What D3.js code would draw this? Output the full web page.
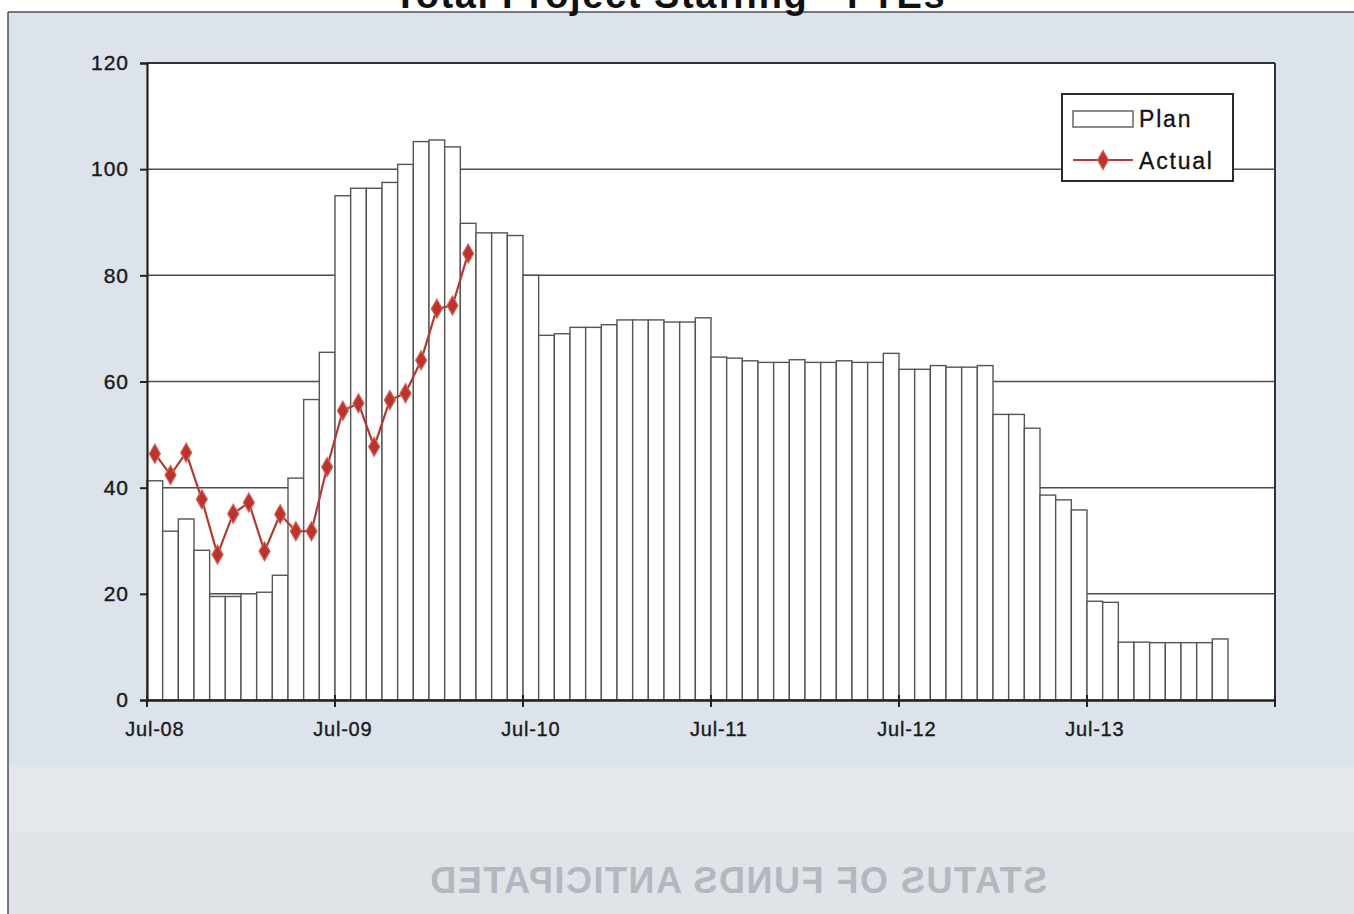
<!DOCTYPE html>
<html>
<head>
<meta charset="utf-8">
<script src="https://cdn.jsdelivr.net/npm/d3@7"></script>
<style>
  html, body { margin: 0; padding: 0; background: #ffffff; }
  svg { display: block; }
  text { font-family: "Liberation Sans", Arial, sans-serif; }
</style>
</head>
<body>
<svg id="chart" width="1354" height="914"></svg>
<script>
// ---------- data ----------
const months = [
  "Jul-08","Aug-08","Sep-08","Oct-08","Nov-08","Dec-08","Jan-09","Feb-09","Mar-09","Apr-09","May-09","Jun-09",
  "Jul-09","Aug-09","Sep-09","Oct-09","Nov-09","Dec-09","Jan-10","Feb-10","Mar-10","Apr-10","May-10","Jun-10",
  "Jul-10","Aug-10","Sep-10","Oct-10","Nov-10","Dec-10","Jan-11","Feb-11","Mar-11","Apr-11","May-11","Jun-11",
  "Jul-11","Aug-11","Sep-11","Oct-11","Nov-11","Dec-11","Jan-12","Feb-12","Mar-12","Apr-12","May-12","Jun-12",
  "Jul-12","Aug-12","Sep-12","Oct-12","Nov-12","Dec-12","Jan-13","Feb-13","Mar-13","Apr-13","May-13","Jun-13",
  "Jul-13","Aug-13","Sep-13","Oct-13","Nov-13","Dec-13","Jan-14","Feb-14","Mar-14","Apr-14","May-14","Jun-14"
];
const planValues = [
  41.3, 31.8, 34.1, 28.2, 19.5, 19.5, 20.0, 20.3, 23.5, 41.8, 56.6, 65.5,
  95.0, 96.4, 96.4, 97.5, 100.9, 105.2, 105.5, 104.2, 89.8, 88.0, 88.0, 87.5,
  80.0, 68.7, 69.0, 70.2, 70.2, 70.7, 71.6, 71.6, 71.6, 71.2, 71.2, 72.0,
  64.6, 64.4, 63.9, 63.6, 63.6, 64.1, 63.6, 63.6, 63.9, 63.6, 63.6, 65.3,
  62.3, 62.3, 63.0, 62.7, 62.7, 63.0, 53.8, 53.8, 51.2, 38.6, 37.7, 35.8,
  18.6, 18.4, 10.9, 10.9, 10.8, 10.8, 10.8, 10.8, 11.5
];
const actualValues = [
  46.4, 42.4, 46.6, 37.8, 27.4, 35.1, 37.2, 28.0, 35.0, 31.8, 31.8, 43.9,
  54.5, 55.9, 47.7, 56.5, 57.8, 64.0, 73.7, 74.3, 84.1
];
const yTicks = [0, 20, 40, 60, 80, 100, 120];
const xTickLabels = ["Jul-08","Jul-09","Jul-10","Jul-11","Jul-12","Jul-13"];
const seriesNames = ["Plan", "Actual"];
const titleText = "Total Project Staffing - FTEs";
const ghostText = "STATUS OF FUNDS ANTICIPATED";

// ---------- layout ----------
const svg = d3.select("#chart");
const plot = { left: 147, right: 1275, top: 63, bottom: 700 };

// background of scanned page
svg.append("rect").attr("x", 0).attr("y", 0).attr("width", 1354).attr("height", 914).attr("fill", "#ffffff");
svg.append("rect").attr("x", 8).attr("y", 12).attr("width", 1346).attr("height", 902)
  .attr("fill", "#dde3ea");
svg.append("rect").attr("x", 9).attr("y", 765).attr("width", 1345).attr("height", 68)
  .attr("fill", "#e4e7eb");
svg.append("rect").attr("x", 9).attr("y", 833).attr("width", 1345).attr("height", 81)
  .attr("fill", "#e0e3e8");
svg.append("line").attr("x1", 8).attr("x2", 1354).attr("y1", 12).attr("y2", 12)
  .attr("stroke", "#4a4f55").attr("stroke-width", 1.5);
svg.append("line").attr("x1", 8).attr("x2", 8).attr("y1", 12).attr("y2", 914)
  .attr("stroke", "#4a4f55").attr("stroke-width", 1.5);

// mirrored bleed-through text
svg.append("text")
  .attr("transform", "translate(738,893) scale(-1,1)")
  .attr("text-anchor", "middle")
  .attr("font-size", 36).attr("font-weight", "bold")
  .attr("letter-spacing", 1.5)
  .attr("fill", "#b3b7bf")
  .text(ghostText);

// title (cut at the top, as in the scan)
svg.append("text")
  .attr("x", 670).attr("y", 8)
  .attr("text-anchor", "middle")
  .attr("font-size", 38).attr("font-weight", "bold")
  .attr("letter-spacing", 1.6)
  .attr("fill", "#111")
  .text(titleText);

// scales
const x = d3.scaleBand().domain(months).range([plot.left, plot.right]).padding(0);
const y = d3.scaleLinear().domain([0, 120]).range([plot.bottom, plot.top]);
const bw = x.bandwidth();

// plot area
svg.append("rect")
  .attr("x", plot.left).attr("y", plot.top)
  .attr("width", plot.right - plot.left).attr("height", plot.bottom - plot.top)
  .attr("fill", "#ffffff");

// gridlines
svg.append("g").selectAll("line")
  .data(yTicks.filter(d => d > 0 && d < 120))
  .join("line")
  .attr("x1", plot.left).attr("x2", plot.right)
  .attr("y1", d => y(d)).attr("y2", d => y(d))
  .attr("stroke", "#4d4d4d").attr("stroke-width", 1.5);

// plan bars
svg.append("g").selectAll("rect")
  .data(planValues)
  .join("rect")
  .attr("x", (d, i) => x(months[i]))
  .attr("y", d => y(d))
  .attr("width", bw)
  .attr("height", d => y(0) - y(d))
  .attr("fill", "#ffffff")
  .attr("stroke", "#555555")
  .attr("stroke-width", 1.4);

// plot border (top and right)
svg.append("line").attr("x1", plot.left).attr("x2", plot.right).attr("y1", plot.top).attr("y2", plot.top)
  .attr("stroke", "#333").attr("stroke-width", 2);
svg.append("line").attr("x1", plot.right).attr("x2", plot.right).attr("y1", plot.top).attr("y2", plot.bottom)
  .attr("stroke", "#333").attr("stroke-width", 2);

// y axis
const yAxis = d3.axisLeft(y).tickValues(yTicks).tickSize(7).tickPadding(11).tickFormat(d3.format("d"));
const gy = svg.append("g").attr("transform", `translate(${plot.left},0)`).call(yAxis);
gy.select(".domain").attr("stroke", "#222").attr("stroke-width", 2.2);
gy.selectAll(".tick line").attr("stroke", "#222").attr("stroke-width", 2);
gy.selectAll(".tick text")
  .attr("font-size", 21).attr("fill", "#1a1a1a").attr("letter-spacing", 1)
  .attr("stroke", "#1a1a1a").attr("stroke-width", 0.4)
  .attr("font-family", "'Liberation Sans', Arial, sans-serif");

// x axis
const xAxis = d3.axisBottom(x).tickValues(xTickLabels).tickSize(0).tickPadding(22);
const gx = svg.append("g").attr("transform", `translate(0,${plot.bottom})`).call(xAxis);
gx.select(".domain").attr("stroke", "#222").attr("stroke-width", 2.4);
gx.selectAll(".tick text")
  .attr("font-size", 20).attr("fill", "#1a1a1a").attr("letter-spacing", 0.8)
  .attr("stroke", "#1a1a1a").attr("stroke-width", 0.35)
  .attr("font-family", "'Liberation Sans', Arial, sans-serif");
gx.selectAll(".tick line").remove();
// major tick marks at band left edges (every July) plus axis end
const tickEdges = xTickLabels.map(m => x(m)).concat([plot.right]);
svg.append("g").selectAll("line")
  .data(tickEdges)
  .join("line")
  .attr("x1", d => d).attr("x2", d => d)
  .attr("y1", plot.bottom - 5).attr("y2", plot.bottom + 7)
  .attr("stroke", "#222").attr("stroke-width", 2);

// actual line
const lineColor = "#b23a32";
const line = d3.line()
  .x((d, i) => x(months[i]) + bw / 2)
  .y(d => y(d));
svg.append("path")
  .datum(actualValues)
  .attr("d", line)
  .attr("fill", "none")
  .attr("stroke", lineColor)
  .attr("stroke-width", 2.2);
const diamond = d3.symbol().type(d3.symbolDiamond).size(105);
svg.append("g").selectAll("path")
  .data(actualValues)
  .join("path")
  .attr("d", diamond)
  .attr("transform", (d, i) => `translate(${x(months[i]) + bw / 2},${y(d)})`)
  .attr("fill", "#b8342c")
  .attr("stroke", "#d9605a")
  .attr("stroke-width", 1.2);

// legend
const lg = svg.append("g");
lg.append("rect").attr("x", 1062).attr("y", 94).attr("width", 171).attr("height", 87)
  .attr("fill", "#ffffff").attr("stroke", "#2a2a2a").attr("stroke-width", 2);
lg.append("rect").attr("x", 1073).attr("y", 111).attr("width", 60).attr("height", 16)
  .attr("fill", "#ffffff").attr("stroke", "#666").attr("stroke-width", 1.5);
lg.append("line").attr("x1", 1073).attr("x2", 1133).attr("y1", 160).attr("y2", 160)
  .attr("stroke", lineColor).attr("stroke-width", 2.2);
lg.append("path").attr("d", diamond).attr("transform", "translate(1103,160)")
  .attr("fill", "#b8342c").attr("stroke", "#d9605a").attr("stroke-width", 1.2);
lg.append("text").attr("x", 1139).attr("y", 127).attr("font-size", 23).attr("letter-spacing", 1.8)
  .attr("fill", "#111").attr("stroke", "#111").attr("stroke-width", 0.3).text(seriesNames[0]);
lg.append("text").attr("x", 1139).attr("y", 169).attr("font-size", 23).attr("letter-spacing", 1.8)
  .attr("fill", "#111").attr("stroke", "#111").attr("stroke-width", 0.3).text(seriesNames[1]);
</script>
</body>
</html>
